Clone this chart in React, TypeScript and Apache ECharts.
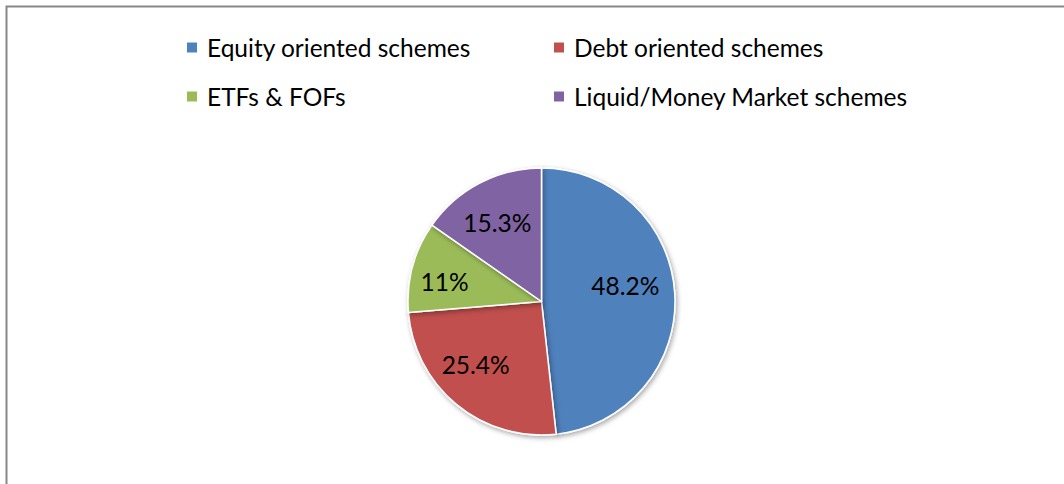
import React, { useEffect, useRef } from "react";
import * as echarts from "echarts";

const categories = [
  "Equity oriented schemes",
  "Debt oriented schemes",
  "ETFs & FOFs",
  "Liquid/Money Market schemes",
];
const shares = [48.2, 25.4, 11, 15.3];
const colors = ["#4F81BD", "#C0504D", "#9BBB59", "#8064A2"];
const legendCol1 = ["Equity oriented schemes", "ETFs & FOFs"];
const legendCol2 = ["Debt oriented schemes", "Liquid/Money Market schemes"];
// small label nudges (style only)
const labelNudges = [
  [-7, -11],
  [-8, -7],
  [-9, 4],
  [-2, 2],
];

const FONT = "Lato";
const FS = 24.5;

export default function App() {
  const ref = useRef<HTMLDivElement>(null);
  useEffect(() => {
    if (!ref.current) return;
    const chart = echarts.init(ref.current, undefined, { renderer: "svg" });
    const data = categories.map((name, i) => ({
      name,
      value: shares[i],
      itemStyle: { color: colors[i] },
    }));
    const legendBase = {
      orient: "vertical" as const,
      top: 34,
      padding: 0,
      itemGap: 22,
      itemWidth: 12,
      itemHeight: 12,
      icon: "rect",
      selectedMode: false,
      textStyle: {
        fontFamily: FONT,
        fontSize: FS,
        lineHeight: 27,
        color: "#000",
        padding: [0, 0, 0, 4],
      },
    };
    chart.setOption({
      animation: false,
      backgroundColor: "#fff",
      graphic: [
        {
          type: "rect",
          shape: { x: 6.5, y: 6.5, width: 1200, height: 600 },
          style: { fill: "none", stroke: "#878787", lineWidth: 2 },
          silent: true,
        },
      ],
      legend: [
        { ...legendBase, left: 185, data: legendCol1 },
        { ...legendBase, left: 552, data: legendCol2 },
      ],
      series: [
        {
          type: "pie",
          center: [541.5, 301.5],
          radius: [0, 133.5],
          startAngle: 90,
          clockwise: true,
          silent: true,
          data,
          label: { show: false },
          labelLine: { show: false },
          itemStyle: {
            borderColor: "#fff",
            borderWidth: 1.5,
            shadowBlur: 5,
            shadowOffsetX: 1.5,
            shadowOffsetY: 2,
            shadowColor: "rgba(0,0,0,0.35)",
          },
        },
        {
          type: "pie",
          center: [541.5, 301.5],
          radius: [0, 176],
          startAngle: 90,
          clockwise: true,
          silent: true,
          data: categories.map((name, i) => ({
            name,
            value: shares[i],
            label: { offset: labelNudges[i] },
          })),
          itemStyle: { color: "rgba(0,0,0,0)" },
          label: {
            show: true,
            position: "inside",
            formatter: (p: any) => `${p.value}%`,
            fontFamily: FONT,
            fontSize: FS,
            color: "#000",
          },
          labelLine: { show: false },
        },
      ],
    });
    return () => chart.dispose();
  }, []);
  return (
    <div
      ref={ref}
      style={{ position: "fixed", left: 0, top: 0, width: 1064, height: 484 }}
    />
  );
}
